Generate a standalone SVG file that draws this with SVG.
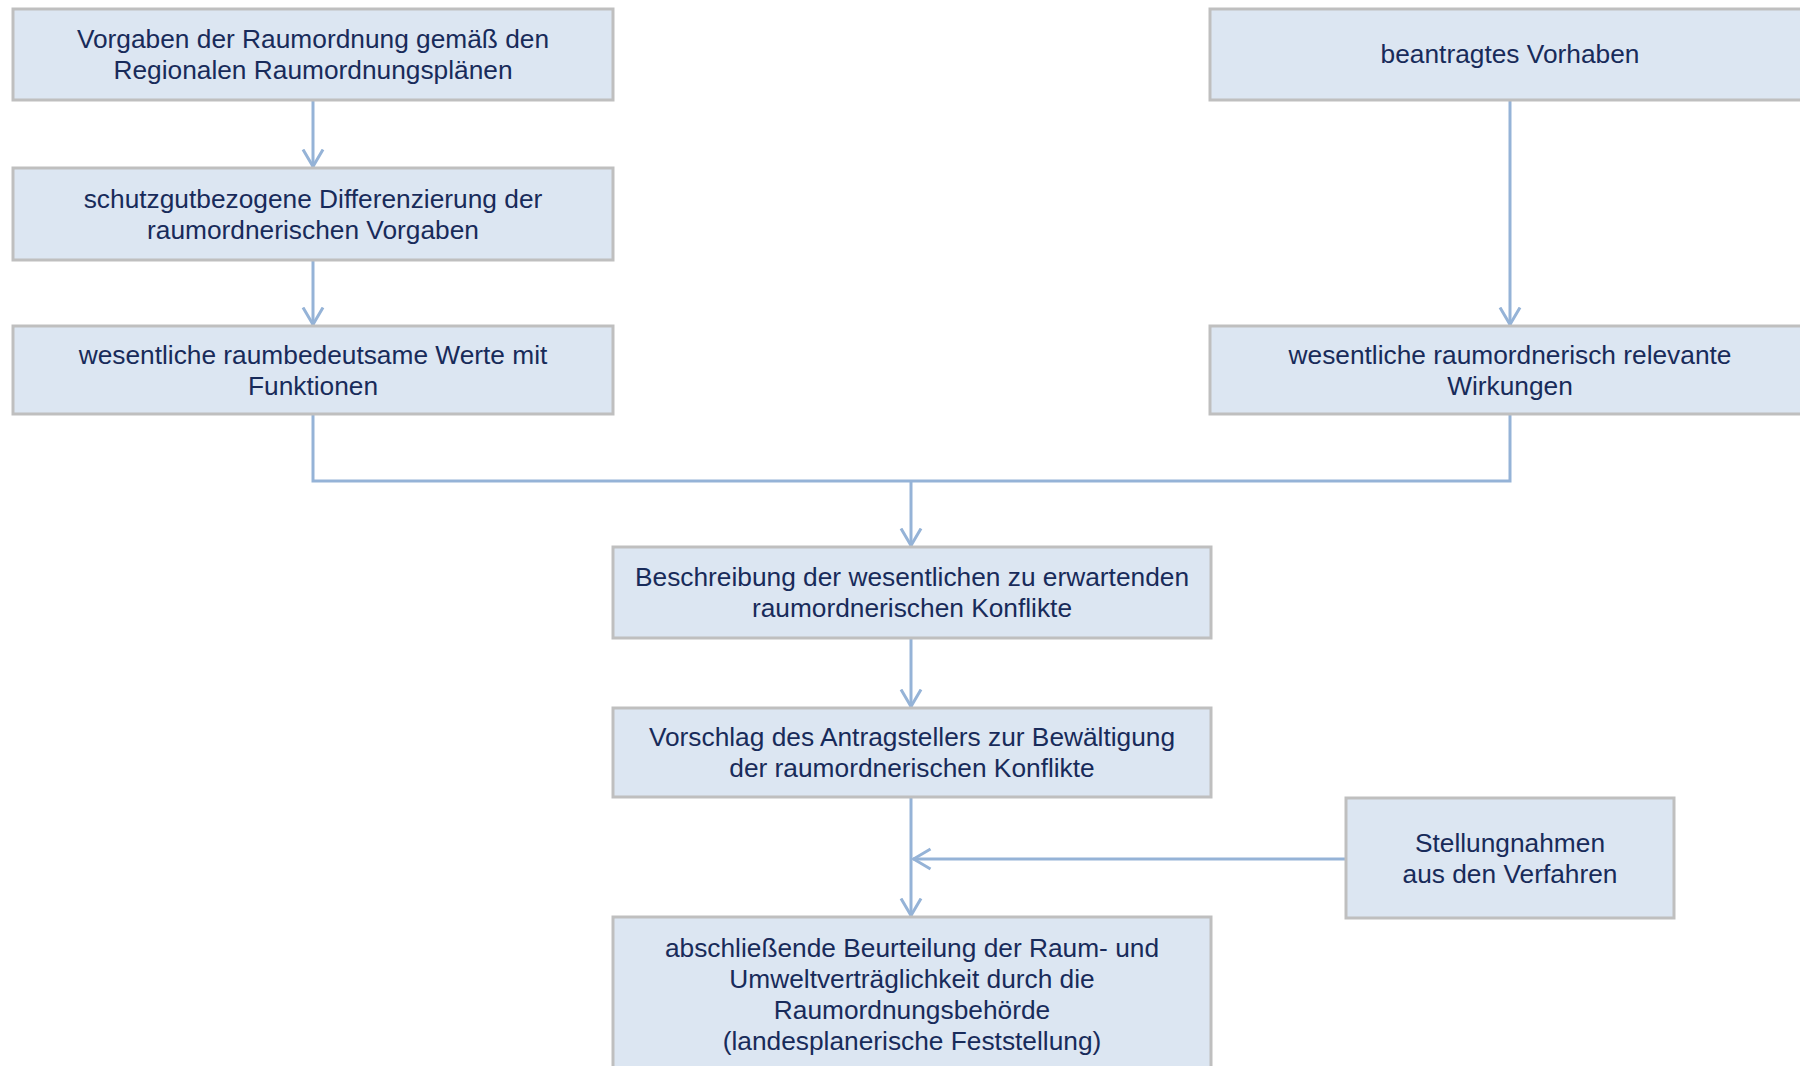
<svg xmlns="http://www.w3.org/2000/svg" width="1800" height="1066" viewBox="0 0 1800 1066">
<style>
.box{fill:#dce6f2;stroke:#bfbfbf;stroke-width:3}
.t{font-family:"Liberation Sans",Arial,sans-serif;font-size:26.3px;fill:#182b5a;text-anchor:middle}
.c{fill:none;stroke:#95b3d7;stroke-width:3}
</style>
<defs>
<marker id="ah" viewBox="0 0 20 24" refX="18.5" refY="12" markerWidth="20" markerHeight="24" markerUnits="userSpaceOnUse" orient="auto">
<path d="M1,2 L18,12 L1,22" fill="none" stroke="#95b3d7" stroke-width="3"/>
</marker>
</defs>
<rect width="1800" height="1066" fill="#ffffff"/>
<g id="connectors">
<path class="c" d="M313,100 V167" marker-end="url(#ah)"/>
<path class="c" d="M313,260 V325" marker-end="url(#ah)"/>
<path class="c" d="M1510,100 V325" marker-end="url(#ah)"/>
<path class="c" d="M313,414 V481 H1510 V414"/>
<path class="c" d="M911,481 V546" marker-end="url(#ah)"/>
<path class="c" d="M911,638 V707" marker-end="url(#ah)"/>
<path class="c" d="M911,797 V916" marker-end="url(#ah)"/>
<path class="c" d="M1346,859 H913" marker-end="url(#ah)"/>
</g>
<g id="n1">
<rect class="box" x="13" y="9" width="600" height="91"/>
<text class="t" x="313" y="48">Vorgaben der Raumordnung gemäß den</text>
<text class="t" x="313" y="79">Regionalen Raumordnungsplänen</text>
</g>
<g id="n2">
<rect class="box" x="13" y="168" width="600" height="92"/>
<text class="t" x="313" y="208">schutzgutbezogene Differenzierung der</text>
<text class="t" x="313" y="239">raumordnerischen Vorgaben</text>
</g>
<g id="n3">
<rect class="box" x="13" y="326" width="600" height="88"/>
<text class="t" x="313" y="364">wesentliche raumbedeutsame Werte mit</text>
<text class="t" x="313" y="395">Funktionen</text>
</g>
<g id="n4">
<rect class="box" x="1210" y="9" width="600" height="91"/>
<text class="t" x="1510" y="63">beantragtes Vorhaben</text>
</g>
<g id="n5">
<rect class="box" x="1210" y="326" width="600" height="88"/>
<text class="t" x="1510" y="364">wesentliche raumordnerisch relevante</text>
<text class="t" x="1510" y="395">Wirkungen</text>
</g>
<g id="n6">
<rect class="box" x="613" y="547" width="598" height="91"/>
<text class="t" x="912" y="586">Beschreibung der wesentlichen zu erwartenden</text>
<text class="t" x="912" y="617">raumordnerischen Konflikte</text>
</g>
<g id="n7">
<rect class="box" x="613" y="708" width="598" height="89"/>
<text class="t" x="912" y="746">Vorschlag des Antragstellers zur Bewältigung</text>
<text class="t" x="912" y="777">der raumordnerischen Konflikte</text>
</g>
<g id="n8">
<rect class="box" x="1346" y="798" width="328" height="120"/>
<text class="t" x="1510" y="852">Stellungnahmen</text>
<text class="t" x="1510" y="883">aus den Verfahren</text>
</g>
<g id="n9">
<rect class="box" x="613" y="917" width="598" height="160"/>
<text class="t" x="912" y="957">abschließende Beurteilung der Raum- und</text>
<text class="t" x="912" y="988">Umweltverträglichkeit durch die</text>
<text class="t" x="912" y="1019">Raumordnungsbehörde</text>
<text class="t" x="912" y="1050">(landesplanerische Feststellung)</text>
</g>
</svg>
